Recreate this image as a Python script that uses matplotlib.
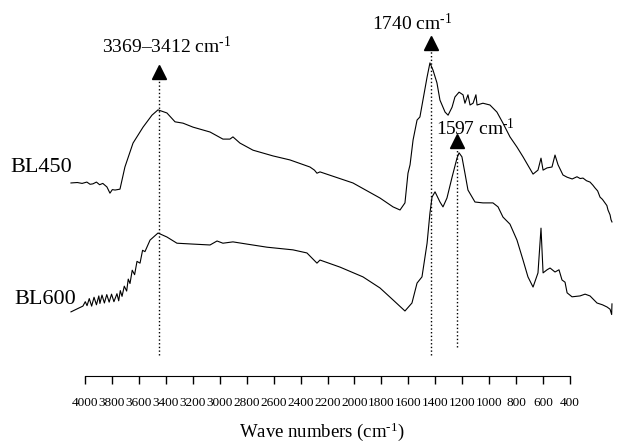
import matplotlib
matplotlib.use("Agg")
import matplotlib.pyplot as plt

plt.rcParams["font.family"] = ["Liberation Serif", "DejaVu Serif"]
plt.rcParams["mathtext.fontset"] = "custom"
plt.rcParams["mathtext.rm"] = "Liberation Serif"
plt.rcParams["mathtext.it"] = "Liberation Serif:italic"

# BL450 spectrum (wavenumber, intensity a.u.)
bl450_wn = [4000, 3960, 3930, 3900, 3880, 3862, 3840, 3820, 3800, 3774, 3755, 3740,
            3723, 3692, 3661, 3610, 3547, 3491, 3453, 3397, 3346, 3296, 3233, 3126,
            3045, 3001, 2982, 2938, 2856, 2730, 2624, 2498, 2470, 2454, 2435, 2228,
            2058, 1976, 1932, 1901, 1882, 1869, 1850, 1825, 1807, 1788, 1762, 1744,
            1725, 1700, 1681, 1649, 1630, 1605, 1587, 1561, 1536, 1524, 1505, 1492,
            1473, 1455, 1448, 1411, 1367, 1323, 1285, 1241, 1197, 1159, 1096, 1065,
            1046, 1033, 1008, 977, 958, 939, 908, 882, 850, 820, 800, 782, 760, 738,
            720, 707, 690, 675, 660, 644, 632, 625, 612, 606, 600]
bl450_y = [58.7, 58.8, 58.6, 58.9, 58.4, 58.5, 58.9, 58.3, 58.6, 57.8, 56.4, 57.2,
           57.1, 57.3, 62.3, 67.7, 71.3, 74.0, 75.2, 74.5, 72.5, 72.2, 71.3, 70.2,
           68.6, 68.6, 69.1, 67.7, 66.1, 64.8, 63.9, 62.3, 61.6, 60.9, 61.2, 58.7,
           55.3, 53.3, 52.6, 54.2, 60.9, 62.8, 68.4, 72.9, 73.6, 77.4, 82.6, 85.8,
           84.2, 81.3, 77.4, 74.7, 74.0, 75.8, 78.1, 79.2, 78.6, 76.7, 78.6, 76.3,
           76.7, 78.6, 76.3, 76.7, 76.3, 74.7, 72.2, 69.1, 66.8, 64.6, 60.7, 61.6,
           64.3, 61.6, 62.1, 62.3, 65.0, 62.8, 60.5, 60.0, 59.6, 60.1, 59.7, 59.8,
           59.2, 58.9, 58.2, 57.6, 56.9, 55.5, 55.0, 54.2, 53.6, 52.6, 51.5, 50.4,
           49.9]

# BL600 spectrum
bl600_wn = [4000, 3960, 3925, 3910, 3899, 3885, 3870, 3855, 3840, 3825, 3818, 3805,
            3790, 3775, 3760, 3745, 3730, 3711, 3700, 3690, 3679, 3665, 3650, 3640,
            3629, 3615, 3600, 3585, 3566, 3550, 3535, 3503, 3453, 3397, 3334, 3233,
            3126, 3082, 3045, 2982, 2894, 2768, 2605, 2517, 2454, 2435, 2309, 2165,
            2058, 1976, 1901, 1857, 1825, 1794, 1762, 1744, 1731, 1712, 1681, 1662,
            1637, 1605, 1574, 1561, 1543, 1524, 1505, 1461, 1411, 1348, 1316, 1285,
            1241, 1197, 1159, 1128, 1096, 1065, 1046, 1033, 1008, 989, 958, 933, 914,
            895, 882, 851, 801, 769, 738, 694, 660, 631, 612, 602, 600]
bl600_y = [29.6, 30.3, 30.9, 31.9, 31.0, 32.6, 30.9, 32.9, 31.2, 33.2, 31.5, 33.4,
           31.6, 33.5, 31.8, 33.6, 31.9, 33.7, 32.1, 34.4, 33.1, 35.4, 34.3, 37.0,
           36.0, 39.0, 38.0, 41.0, 40.6, 43.5, 43.2, 45.8, 47.4, 46.5, 45.1, 44.9,
           44.7, 45.6, 45.1, 45.4, 44.9, 44.2, 43.6, 42.9, 40.6, 41.3, 39.7, 37.5,
           35.0, 32.3, 29.8, 31.6, 36.1, 37.5, 45.1, 51.9, 55.5, 56.7, 54.4, 53.3,
           55.3, 60.0, 64.3, 65.5, 64.6, 60.9, 57.1, 54.4, 54.2, 54.2, 53.3, 51.0,
           49.4, 45.8, 41.3, 37.5, 35.2, 38.4, 48.5, 38.4, 39.1, 39.5, 38.6, 39.1,
           36.8, 36.3, 33.9, 33.0, 33.2, 33.6, 33.2, 31.6, 31.2, 30.7, 30.2, 29.0,
           31.4]

# peak markers
peak_pos = [3447, 1740, 1574]
peak_top = [83.7, 90.3, 68.2]
peak_bottom = [19.9, 19.9, 21.7]
peak_labels = [r"3369–3412 cm$^{\text{-1}}$", r"1740 cm$^{\text{-1}}$", r"1597 cm$^{\text{-1}}$"]
label_x = [3396, 1857, 1461]
label_y = [89.4, 94.8, 71.1]

ticks = list(range(4000, 399, -200))

fig = plt.figure(figsize=(6.43, 4.43), dpi=100)

# spectra
ax = fig.add_axes([0, 0, 1, 1])
ax.plot(bl450_wn, bl450_y, color="black", linewidth=0.8)
ax.plot(bl600_wn, bl600_y, color="black", linewidth=0.8)

for pos, top, bottom in zip(peak_pos, peak_top, peak_bottom):
    ax.plot([pos, pos], [bottom, top], color="black", linestyle=":", linewidth=1)
    ax.plot(pos, top, marker="^", color="black", markersize=10)

for txt, lx, ly in zip(peak_labels, label_x, label_y):
    ax.text(lx, ly, txt, ha="center", va="center", fontsize=14)

ax.set_xlim(4446, 405)
ax.set_ylim(0, 100)
ax.axis("off")

fig.text(0.0156, 0.623, "BL450", ha="left", va="center", fontsize=16)
fig.text(0.0218, 0.323, "BL600", ha="left", va="center", fontsize=16)

# wavenumber scale
ax2 = fig.add_axes([0.1322, 0.1512, 0.7543, 0.01])
ax2.set_xlim(4000, 400)
ax2.set_xticks(ticks)
ax2.set_yticks([])
for side in ["top", "left", "right"]:
    ax2.spines[side].set_visible(False)
ax2.patch.set_visible(False)
ax2.tick_params(axis="x", direction="out", length=6, width=1, pad=9, labelsize=9.5)

fig.text(0.5, 1 - 432 / 443, r"Wave numbers (cm$^{\text{-1}}$)", ha="center", va="center", fontsize=13.5)

fig.savefig("out.png", dpi=100)
